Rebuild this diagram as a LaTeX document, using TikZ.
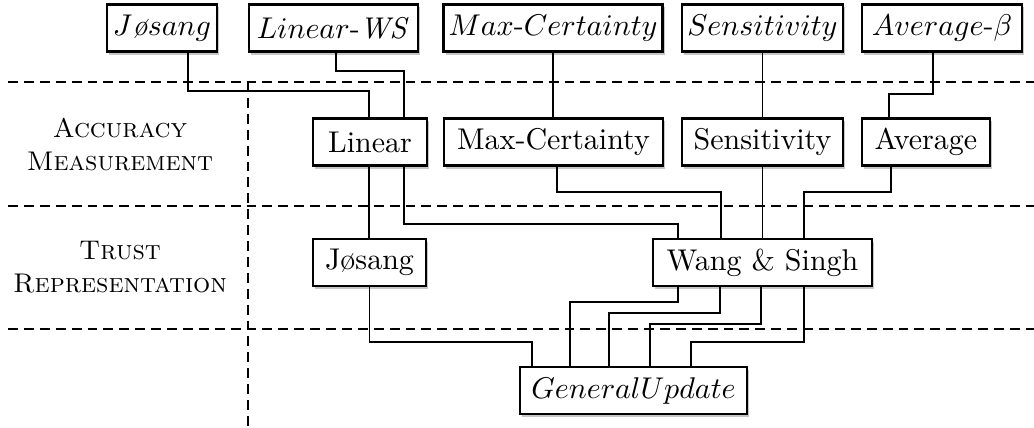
\documentclass[tikz,border=0pt]{standalone}
\usetikzlibrary{shadows, calc}

\tikzset{
  box/.style={draw, thick, fill=white, inner sep=0pt, minimum height=15.7pt,
    drop shadow={opacity=0.45, shadow xshift=0.8pt, shadow yshift=-1pt}},
  link/.style={line width=0.6pt},
  layer/.style={dash pattern=on 3.3pt off 2pt, line width=0.6pt},
  layertext/.style={align=center, font=\small}
}

\begin{document}
\begin{tikzpicture}[x=0.3333pt, y=-0.3333pt]
\useasboundingbox (0,0) rectangle (1034,427);

% Draw layer separators
\draw[layer] (8,82) -- (1034,82);
\draw[layer] (8,206) -- (1034,206);
\draw[layer] (8,329) -- (1034,329);
\draw[layer] (248,82) -- (248,427);

% Draw layer names
\node[layertext] (accuracy) at (120,145) {\textsc{Accuracy}\\\textsc{Measurement}};
\node[layertext] (trust) at (120,267) {\textsc{Trust}\\\textsc{Representation}};

% Draw algorithms
\node[box, minimum width=36.7pt] (tJosang) at (162,28) {$J\textit{\o}sang$};
\node[box, minimum width=56.3pt] (tLinearWS) at (333.5,28) {$Linear$-$\mathit{WS}$};
\node[box, minimum width=73pt] (tMaxCert) at (553,28) {$Max$-$Certainty$};
\node[box, minimum width=53.7pt] (tSens) at (762.5,28) {$Sensitivity$};
\node[box, minimum width=53.3pt] (tAvg) at (942,28) {$Average$-$\beta$};

% Draw accuracy measurements
\node[box, minimum width=38pt] (mLinear) at (370,142) {Linear};
\node[box, minimum width=73pt] (mMaxCert) at (553.5,142) {Max-Certainty};
\node[box, minimum width=53.7pt] (mSens) at (762.5,142) {Sensitivity};
\node[box, minimum width=42.7pt] (mAvg) at (926,142) {Average};

% Draw trust representations
\node[box, minimum width=37.7pt] (rJosang) at (369.5,262.5) {J\o sang};
\node[box, minimum width=73pt] (rWang) at (762.5,262.5) {Wang \& Singh};

% Draw general update
\node[box, minimum width=75.7pt] (gu) at (633.5,390.5) {$GeneralUpdate$};

% Draw links: algorithms to accuracy
\draw[link] ($(tJosang.south)+(26,0)$) -- ++(0,38) -| ($(mLinear.north)+(-1,0)$);
\draw[link] ($(tLinearWS.south)+(2.5,0)$) -- ++(0,18) -| ($(mLinear.north)+(34,0)$);
\draw[link] (tMaxCert.south) -- (tMaxCert.south |- mMaxCert.north);
\draw[link] (tSens.south) -- (mSens.north);
\draw[link] ($(tAvg.south)+(-9,0)$) -- ++(0,41) -| ($(mAvg.north)+(-37,0)$);

% Draw links: accuracy to representation
\draw[link] ($(mLinear.south)+(-1,0)$) -- ($(rJosang.north)+(-0.5,0)$);
\draw[link] ($(mLinear.south)+(34,0)$) -- ++(0,57) -| ($(rWang.north)+(-84.5,0)$);
\draw[link] ($(mMaxCert.south)+(3.5,0)$) -- ++(0,25) -| ($(rWang.north)+(-41.5,0)$);
\draw[link] (mSens.south) -- (rWang.north);
\draw[link] ($(mAvg.south)+(-35,0)$) -- ++(0,25) -| ($(rWang.north)+(41.5,0)$);

% Draw links: representation to update
\draw[link] (rJosang.south) -- ++(0,55) -| ($(gu.north)+(-101.5,0)$);
\draw[link] ($(rWang.south)+(-84.5,0)$) -- ++(0,15) -| ($(gu.north)+(-63.5,0)$);
\draw[link] ($(rWang.south)+(-42.5,0)$) -- ++(0,26) -| ($(gu.north)+(-24.5,0)$);
\draw[link] ($(rWang.south)+(-1.5,0)$) -- ++(0,37) -| ($(gu.north)+(16.5,0)$);
\draw[link] ($(rWang.south)+(41.5,0)$) -- ++(0,55) -| ($(gu.north)+(57.5,0)$);

\end{tikzpicture}
\end{document}
